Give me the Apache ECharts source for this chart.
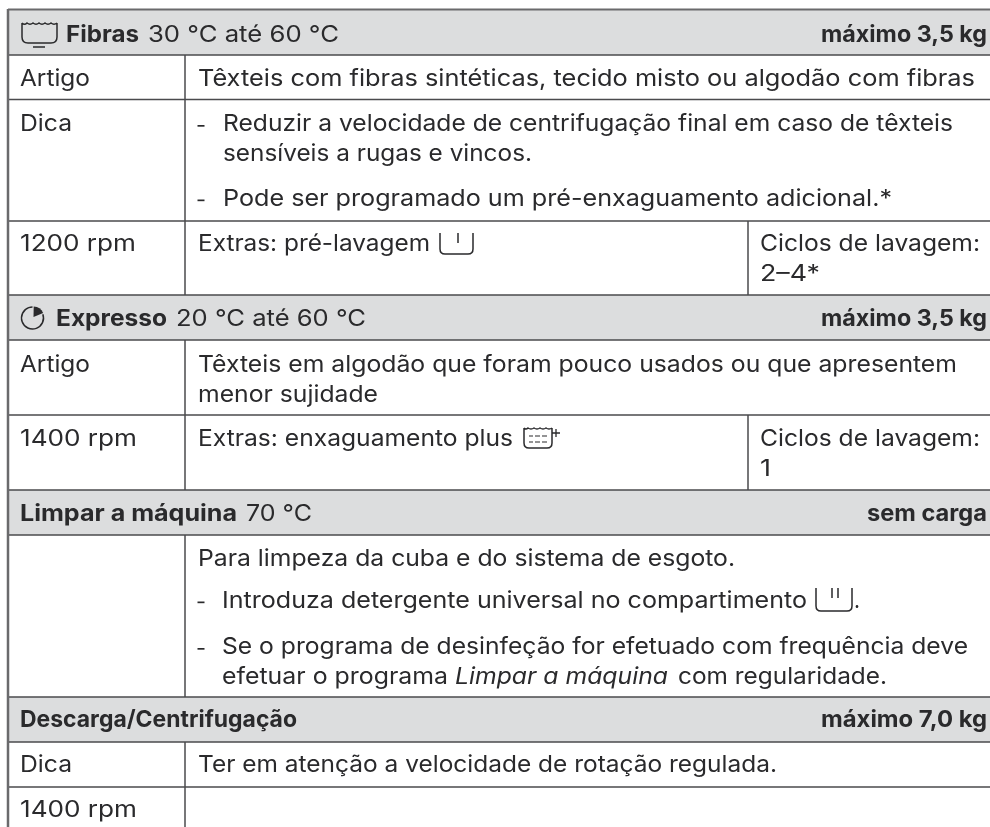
<!DOCTYPE html>
<html><head><meta charset="utf-8">
<style>html,body{margin:0;padding:0;background:#fff}#c{width:990px;height:827px}</style>
<script src="https://cdn.jsdelivr.net/npm/echarts@6/dist/echarts.min.js"></script>
</head><body><div id="c"></div>
<script>
// ---- content ----
const headTitles = ['Fibras', 'Expresso', 'Limpar a máquina', 'Descarga/Centrifugação'];
const headTemps = ['30 °C até 60 °C', '20 °C até 60 °C', '70 °C'];
const headLoads = ['máximo 3,5 kg', 'máximo 3,5 kg', 'sem carga', 'máximo 7,0 kg'];
const labels = ['Artigo', 'Dica', '1200 rpm', 'Artigo', '1400 rpm', 'Dica', '1400 rpm'];
const bodyLines = [
  'Têxteis com fibras sintéticas, tecido misto ou algodão com fibras',
  'Reduzir a velocidade de centrifugação final em caso de têxteis',
  'sensíveis a rugas e vincos.',
  'Pode ser programado um pré-enxaguamento adicional.*',
  'Extras: pré-lavagem',
  'Têxteis em algodão que foram pouco usados ou que apresentem',
  'menor sujidade',
  'Extras: enxaguamento plus',
  'Para limpeza da cuba e do sistema de esgoto.',
  'Introduza detergente universal no compartimento',
  'Se o programa de desinfeção for efetuado com frequência deve',
  'Ter em atenção a velocidade de rotação regulada.'
];
const noteParts = ['efetuar o programa', 'Limpar a máquina', 'com regularidade.'];
const cycleLines = ['Ciclos de lavagem:', '2–4*', 'Ciclos de lavagem:', '1'];

// ---- layout ----
const FONT = 'Inter', SIZE = 23, INK = '#2a2a2c', LINE = '#4a4a4d', EDGE = '#6a6a6c', FILL = '#dcddde';
const W = 990, H = 827, L = 8, C1 = 185, C2 = 748;
const headBands = [[10, 55], [295, 340], [490, 535], [697, 742]];
const rules = [99.5, 221, 415, 787];
const REG = SIZE + 'px ' + FONT, BOLD = '700 ' + SIZE + 'px ' + FONT, ITAL = 'italic ' + SIZE + 'px ' + FONT;
const meas = document.createElement('canvas').getContext('2d');
const tw = (t, f) => { meas.font = f; return meas.measureText(t).width; };
const g = [];
// text placed by its baseline and left/right ink span
const tx = (x0, x1, base, text, font) => {
  const f = font || REG;
  g.push({type: 'text', x: x0, y: base - 8.2, scaleX: (x1 - x0) / tw(text, f), silent: true, z: 5,
    style: {text, fill: INK, font: f, verticalAlign: 'middle', textVerticalAlign: 'middle'}});
};
headBands.forEach(b => g.push({type: 'rect', shape: {x: L, y: b[0], width: W - L, height: b[1] - b[0]}, style: {fill: FILL}, z: 1}));
const hl = (y, c, w) => g.push({type: 'line', shape: {x1: L, y1: y, x2: W, y2: y}, style: {stroke: c || LINE, lineWidth: w || 1.5}, z: 3});
const vl = (x, y0, y1, c, w) => g.push({type: 'line', shape: {x1: x, y1: y0, x2: x, y2: y1}, style: {stroke: c || LINE, lineWidth: w || 1.5}, z: 3});
hl(9.5, EDGE, 2);
headBands.forEach((b, i) => { if (i) hl(b[0]); hl(b[1]); });
rules.forEach(y => hl(y));
vl(8, 9, H, EDGE, 2.5);
[[55, 295], [340, 490], [535, 697], [742, H]].forEach(s => vl(C1, s[0], s[1]));
[[221, 295], [415, 490]].forEach(s => vl(C2, s[0], s[1]));

const titleSpan = [[66, 139, 43], [56, 167, 327], [20, 237, 522.5], [20, 297, 728]];
headTitles.forEach((t, i) => tx(titleSpan[i][0], titleSpan[i][1], titleSpan[i][2], t, BOLD));
const tempSpan = [[148, 339, 43], [176, 366, 327], [246, 312, 522.5]];
headTemps.forEach((t, i) => tx(tempSpan[i][0], tempSpan[i][1], tempSpan[i][2], t));
const loadSpan = [[821, 987, 43], [821, 987, 327], [867, 987, 522.5], [821, 987, 728]];
headLoads.forEach((t, i) => tx(loadSpan[i][0], loadSpan[i][1], loadSpan[i][2], t, BOLD));

const labelSpan = [[20, 90, 87], [20, 72, 132.5], [20, 136, 252], [20, 90, 373], [20, 137, 447], [20, 72, 773], [20, 137, 818]];
labels.forEach((t, i) => tx(labelSpan[i][0], labelSpan[i][1], labelSpan[i][2], t));
const bodySpan = [[198, 975, 87], [223, 953, 132.5], [223, 532, 162.5], [223, 892, 207], [198, 430, 252],
  [198, 957, 373], [198, 378, 403], [198, 513, 447], [198, 735, 567], [222, 807, 609], [222, 968, 655.5], [198, 777, 773]];
bodyLines.forEach((t, i) => tx(bodySpan[i][0], bodySpan[i][1], bodySpan[i][2], t));
[132.5, 207, 609, 655.5].forEach(b => g.push({type: 'rect', shape: {x: 197.5, y: b - 7.5, width: 7, height: 1.7}, style: {fill: INK}, z: 5}));
const noteSpan = [[222, 448, REG], [455, 668, ITAL], [678, 887, REG]];
noteParts.forEach((t, i) => tx(noteSpan[i][0], noteSpan[i][1], 685, t, noteSpan[i][2]));
tx(854, 860, 609, '.');
const cycleSpan = [[760, 980, 252], [760, 820, 282], [760, 980, 447], [760, 771, 477]];
cycleLines.forEach((t, i) => tx(cycleSpan[i][0], cycleSpan[i][1], cycleSpan[i][2], t));

// icons
echarts.graphic.registerShape('iconPath', echarts.graphic.extendShape({
  shape: {d: ''},
  buildPath(ctx, shape) {
    const toks = shape.d.match(/[MLQHV]|-?[\d.]+/g); let i = 0, cx = 0, cy = 0, cmd;
    while (i < toks.length) {
      if (/[A-Z]/.test(toks[i])) cmd = toks[i++];
      const n = () => +toks[i++];
      if (cmd === 'M') { cx = n(); cy = n(); ctx.moveTo(cx, cy); }
      else if (cmd === 'L') { cx = n(); cy = n(); ctx.lineTo(cx, cy); }
      else if (cmd === 'H') { cx = n(); ctx.lineTo(cx, cy); }
      else if (cmd === 'V') { cy = n(); ctx.lineTo(cx, cy); }
      else if (cmd === 'Q') { const a = n(), b = n(); cx = n(); cy = n(); ctx.quadraticCurveTo(a, b, cx, cy); }
    }
  }
}));
const ic = (d, w) => g.push({type: 'iconPath', shape: {d}, silent: true, style: {stroke: INK, lineWidth: w || 1.5, fill: 'none'}, z: 6});
ic('M22 23 Q24.5 25.5 27 23 Q30 25.5 33 23 Q36 25.5 39 23 Q42 25.5 45 23 Q48 25.5 51 23 Q54 25.5 57 23 M22 23 V37 Q22 43 28 43 H51 Q57 43 57 37 V23');
ic('M33 47 H45');
ic('M440 233 V249 Q440 254 445 254 H468 Q473 254 473 249 V233 M458 233 V243');
ic('M816 588 V606 Q816 611 821 611 H847 Q852 611 852 606 V588 M832 588 V598 M838 588 V598');
g.push({type: 'arc', shape: {cx: 32.5, cy: 318, r: 11, startAngle: -0.35, endAngle: Math.PI * 1.5, clockwise: true}, silent: true, style: {stroke: INK, lineWidth: 1.5, fill: 'none'}, z: 6});
g.push({type: 'sector', shape: {cx: 33.5, cy: 317, r0: 0, r: 10.5, startAngle: -1.55, endAngle: -0.4, clockwise: true}, silent: true, style: {fill: INK}, z: 6});
ic('M524 428 Q526 430 528 428 Q531 430 534 428 Q537 430 540 428 Q543 430 546 428 Q549 430 552 428 M524 428 V443 Q524 448 529 448 H547 Q552 448 552 443 V428');
ic('M529 436 H533 M535 436 H540 M542 436 H547 M529 442 H533 M535 442 H540 M542 442 H547', 1.2);
ic('M552 433 H560 M556 429 V437', 1.3);

const chart = echarts.init(document.getElementById('c'), null, {renderer: 'canvas', width: W, height: H});
chart.setOption({animation: false, backgroundColor: '#fff', graphic: {elements: g}});
</script></body></html>
